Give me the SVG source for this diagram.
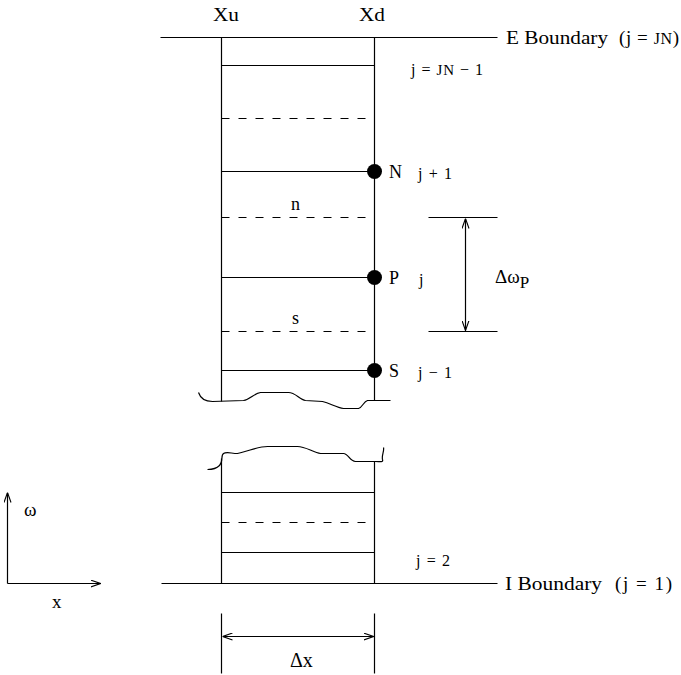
<svg xmlns="http://www.w3.org/2000/svg" width="681" height="675" viewBox="0 0 681 675">
<style>
.ln{stroke:#000;stroke-width:1.2;fill:none}
.ds{stroke:#000;stroke-width:1.2;fill:none;stroke-dasharray:8 9}
.wv{stroke:#000;stroke-width:1.2;fill:none}
text{font-family:"Liberation Serif","Times New Roman",serif;fill:#000}
.lb{font-size:18px}
.sm{font-size:16px}
.bd{font-size:19px}
.dot{fill:#000}
</style>
<defs>
<marker id="ah" viewBox="0 0 10 8" refX="10" refY="4" markerWidth="10" markerHeight="8" markerUnits="userSpaceOnUse" orient="auto-start-reverse">
<path d="M0,0.5 L10,4 L0,7.5" fill="none" stroke="#000" stroke-width="1.1"/>
</marker>
</defs>
<rect width="681" height="675" fill="#fff"/>
<g id="connectors" transform="translate(0.5,0.5)">
<line class="ln" x1="160" y1="37" x2="497" y2="37"/>
<line class="ln" x1="161" y1="583" x2="497" y2="583"/>
<line class="ln" x1="221" y1="37" x2="221" y2="401"/>
<line class="ln" x1="374" y1="37" x2="374" y2="400"/>
<line class="ln" x1="221" y1="458" x2="221" y2="583"/>
<line class="ln" x1="374" y1="461" x2="374" y2="583"/>
<line class="ln" x1="221" y1="65" x2="374" y2="65"/>
<line class="ds" x1="221" y1="118" x2="374" y2="118"/>
<line class="ln" x1="221" y1="171" x2="374" y2="171"/>
<line class="ds" x1="221" y1="217" x2="374" y2="217"/>
<line class="ln" x1="221" y1="277" x2="374" y2="277"/>
<line class="ds" x1="221" y1="331" x2="374" y2="331"/>
<line class="ln" x1="221" y1="370" x2="374" y2="370"/>
<line class="ln" x1="221" y1="492" x2="374" y2="492"/>
<line class="ds" x1="221" y1="522" x2="374" y2="522"/>
<line class="ln" x1="221" y1="552" x2="374" y2="552"/>
<path class="wv" d="M198,392 C200,398 205,401 212,401 L243,400 C250,399 253,393 260,392 L288,392 C295,392 299,399 305,400 L322,401 C330,403 336,407 343,408 L358,408 C362,407 363,401 367,400 L390,400"/>
<path class="wv" d="M207,469 C213,469 216,468 219,465 C223,461 220,455 223,453 C226,451 231,453 237,453 C250,450 258,446 267,446 L297,446 C305,446 313,452 320,453 L343,453 C348,453 349,461 355,461 L375,461 C380,461 383,462 382,459 C381,455 384,450 383,447"/>
<line class="ln" x1="428" y1="217" x2="497" y2="217"/>
<line class="ln" x1="428" y1="331" x2="497" y2="331"/>
<line class="ln" x1="465" y1="218" x2="465" y2="330" marker-start="url(#ah)" marker-end="url(#ah)"/>
<line class="ln" x1="221" y1="613" x2="221" y2="673"/>
<line class="ln" x1="374" y1="613" x2="374" y2="673"/>
<line class="ln" x1="222" y1="636" x2="373" y2="636" marker-start="url(#ah)" marker-end="url(#ah)"/>
<line class="ln" x1="7" y1="583" x2="7" y2="492" marker-end="url(#ah)"/>
<line class="ln" x1="7" y1="583" x2="100" y2="583" marker-end="url(#ah)"/>
</g>
<g id="node-N"><circle class="dot" cx="374.5" cy="171.5" r="7.5"/><text class="lb" x="389" y="178">N</text><text class="sm" x="418" y="179" textLength="34" lengthAdjust="spacing">j + 1</text></g>
<g id="node-P"><circle class="dot" cx="374.5" cy="277.5" r="7.5"/><text class="lb" x="389" y="284">P</text><text class="sm" x="419" y="285">j</text></g>
<g id="node-S"><circle class="dot" cx="374.5" cy="370.5" r="7.5"/><text class="lb" x="389" y="377">S</text><text class="sm" x="418" y="378" textLength="34" lengthAdjust="spacing">j − 1</text></g>
<g id="labels">
<text class="bd" x="213" y="21" textLength="26" lengthAdjust="spacingAndGlyphs">Xu</text>
<text class="bd" x="359" y="21" textLength="26" lengthAdjust="spacingAndGlyphs">Xd</text>
<text class="bd" x="506" y="44" textLength="102" lengthAdjust="spacingAndGlyphs">E Boundary</text>
<text class="bd" x="619" y="44" textLength="60" lengthAdjust="spacing">(j = <tspan font-size="16">JN</tspan>)</text>
<text class="sm" x="411" y="75" textLength="72" lengthAdjust="spacing">j = <tspan font-size="15">JN</tspan> − 1</text>
<text class="lb" x="291" y="210">n</text>
<text class="lb" x="292" y="324">s</text>
<text x="495" y="283" font-size="19">Δω<tspan font-size="17" dy="5">P</tspan></text>
<text class="sm" x="416" y="566" textLength="34" lengthAdjust="spacing">j = 2</text>
<text class="bd" x="505" y="590" textLength="97" lengthAdjust="spacingAndGlyphs">I Boundary</text>
<text class="bd" x="615" y="590" textLength="57" lengthAdjust="spacing">(j = 1)</text>
<text x="290" y="667" font-size="20">Δx</text>
<text x="24" y="516" font-size="19">ω</text>
<text x="52" y="608" font-size="19">x</text>
</g>
</svg>
